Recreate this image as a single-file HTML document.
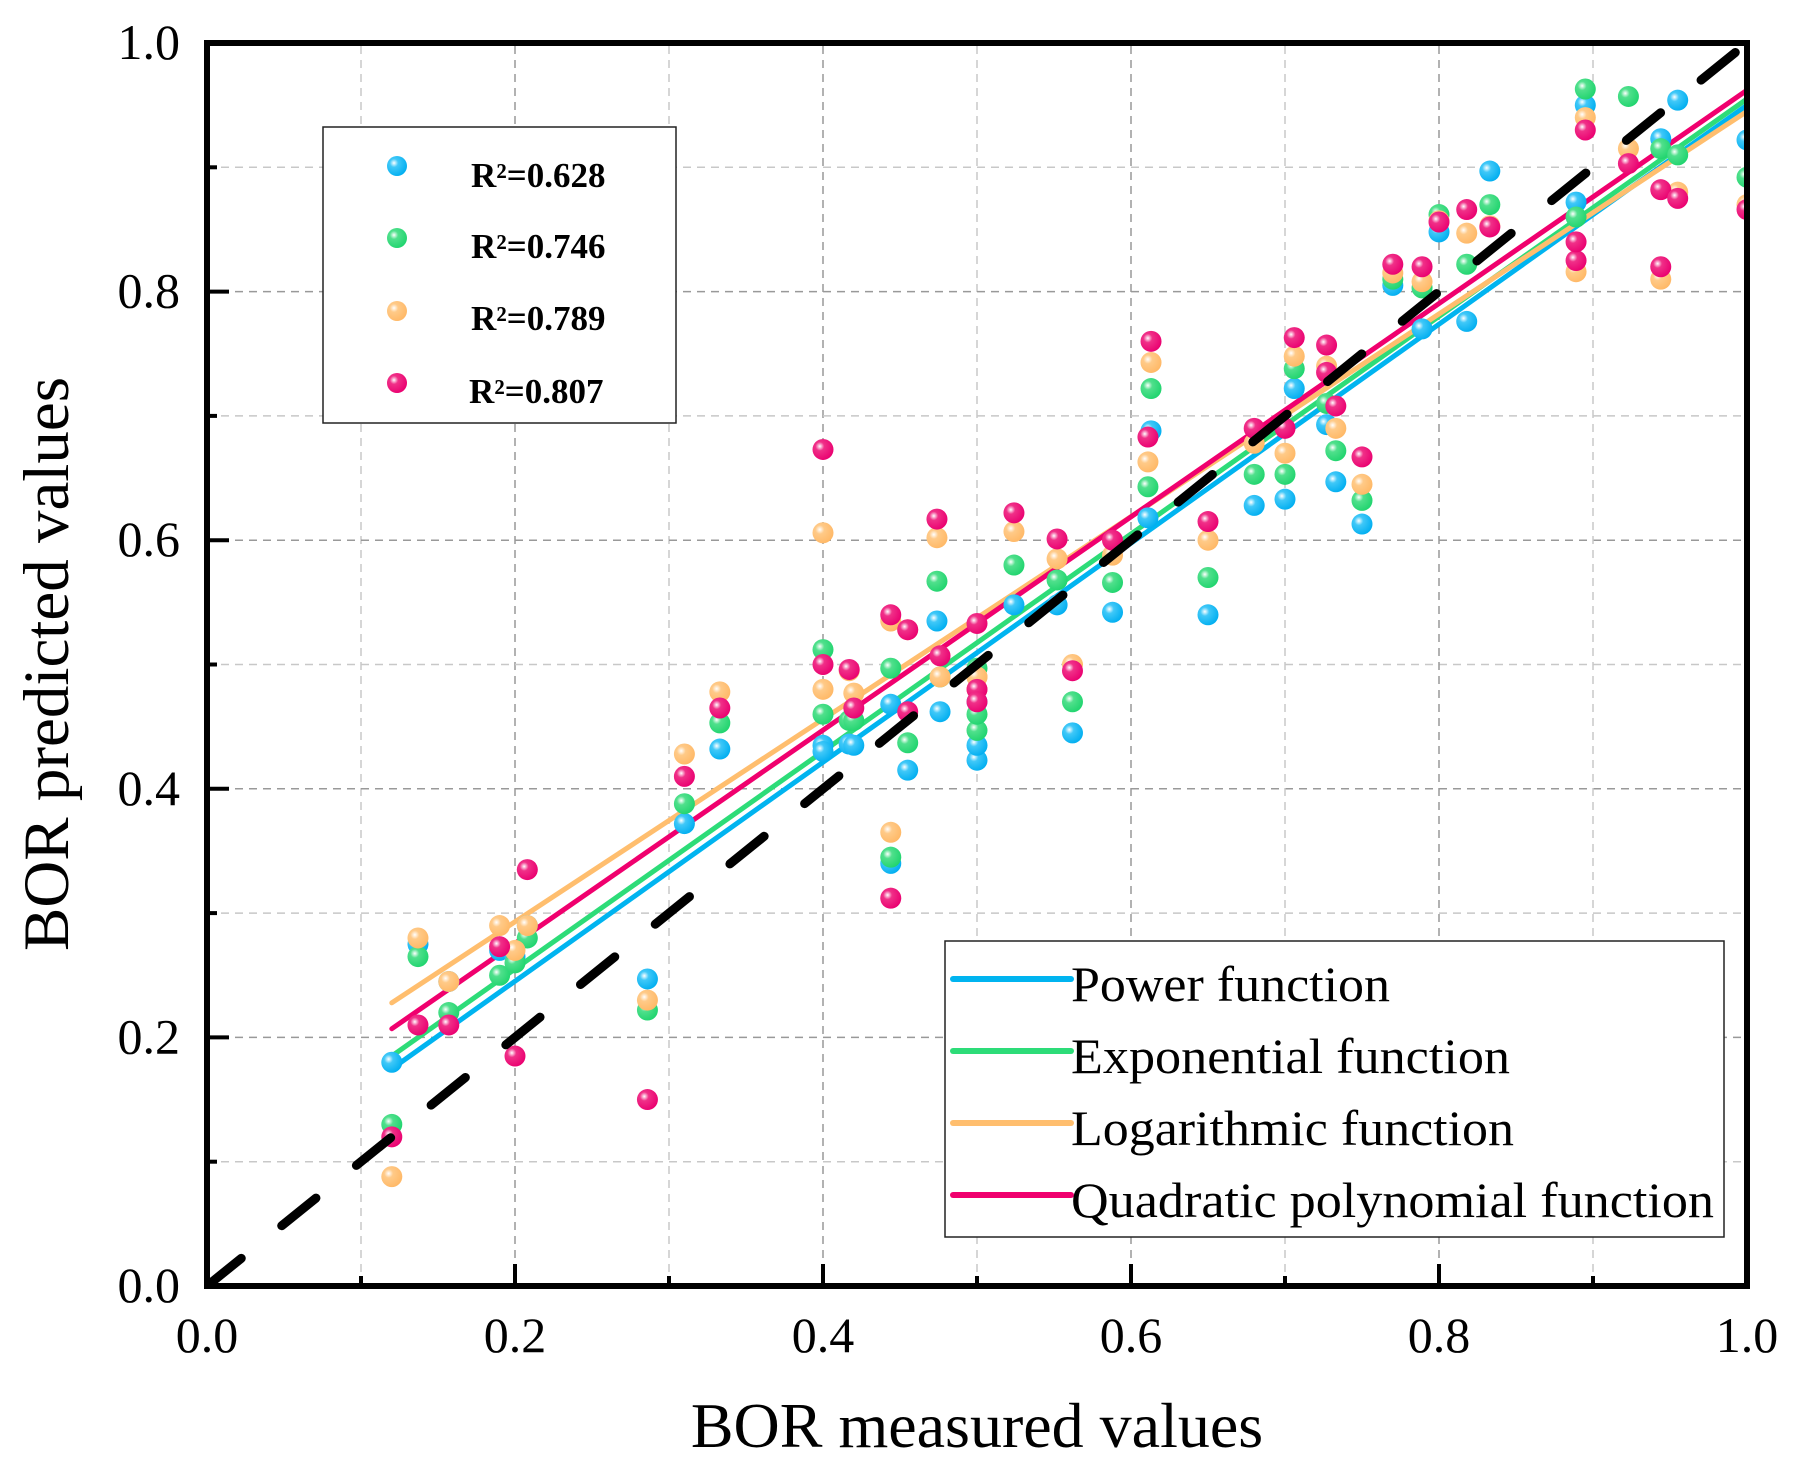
<!DOCTYPE html>
<html><head><meta charset="utf-8"><style>
html,body{margin:0;padding:0;background:#fff;}
svg{display:block;font-family:"Liberation Serif",serif;}
</style></head><body>
<svg id="chart" width="1794" height="1471" viewBox="0 0 1794 1471" xmlns="http://www.w3.org/2000/svg">
<defs>
<radialGradient id="gb" cx="0.35" cy="0.35" r="0.7"><stop offset="0" stop-color="#fff"/><stop offset="0.3" stop-color="#40c8f8"/><stop offset="1" stop-color="#00aef0"/></radialGradient>
<radialGradient id="gg" cx="0.35" cy="0.35" r="0.7"><stop offset="0" stop-color="#fff"/><stop offset="0.3" stop-color="#50e08c"/><stop offset="1" stop-color="#20d46e"/></radialGradient>
<radialGradient id="go" cx="0.35" cy="0.35" r="0.7"><stop offset="0" stop-color="#fff"/><stop offset="0.3" stop-color="#ffca88"/><stop offset="1" stop-color="#ffb866"/></radialGradient>
<radialGradient id="gp" cx="0.35" cy="0.35" r="0.7"><stop offset="0" stop-color="#fff"/><stop offset="0.3" stop-color="#f03088"/><stop offset="1" stop-color="#ea0070"/></radialGradient>
<clipPath id="plotclip"><rect x="207" y="43" width="1540" height="1243"/></clipPath>
</defs>
<g id="grid"></g>
<g id="fits" clip-path="url(#plotclip)"></g>
<g id="pts" clip-path="url(#plotclip)"></g>
<g id="diag" clip-path="url(#plotclip)"></g>
<rect x="207" y="43" width="1540" height="1243" fill="none" stroke="#000" stroke-width="6"/>
<g id="ticks"></g>
<text x="977" y="1447" font-size="64" text-anchor="middle">BOR measured values</text>
<text transform="translate(68,664) rotate(-90)" font-size="65" text-anchor="middle">BOR predicted values</text>
<g>
<rect x="323" y="127" width="353" height="296" fill="#fff" stroke="#222" stroke-width="1.5"/>
<circle cx="397" cy="166" r="10" fill="url(#gb)"/>
<circle cx="397" cy="238" r="10" fill="url(#gg)"/>
<circle cx="397" cy="311" r="10" fill="url(#go)"/>
<circle cx="397" cy="383" r="10" fill="url(#gp)"/>
<text x="471" y="187" font-size="35" font-weight="bold">R²=0.628</text>
<text x="471" y="258" font-size="35" font-weight="bold">R²=0.746</text>
<text x="471" y="330" font-size="35" font-weight="bold">R²=0.789</text>
<text x="469" y="403" font-size="35" font-weight="bold">R²=0.807</text>
</g>
<g>
<rect x="945" y="941" width="779" height="296" fill="#fff" stroke="#222" stroke-width="1.5"/>
<line x1="953" y1="979" x2="1071" y2="979" stroke="#00b4f0" stroke-width="6" stroke-linecap="round"/>
<line x1="953" y1="1051" x2="1071" y2="1051" stroke="#2ddc78" stroke-width="6" stroke-linecap="round"/>
<line x1="953" y1="1123" x2="1071" y2="1123" stroke="#ffbe6e" stroke-width="6" stroke-linecap="round"/>
<line x1="953" y1="1195" x2="1071" y2="1195" stroke="#f0006e" stroke-width="6" stroke-linecap="round"/>
<text x="1071" y="1001" font-size="50" textLength="319" lengthAdjust="spacingAndGlyphs">Power function</text>
<text x="1071" y="1073" font-size="50" textLength="439" lengthAdjust="spacingAndGlyphs">Exponential function</text>
<text x="1071" y="1145" font-size="50" textLength="443" lengthAdjust="spacingAndGlyphs">Logarithmic function</text>
<text x="1071" y="1217" font-size="50" textLength="643" lengthAdjust="spacingAndGlyphs">Quadratic polynomial function</text>
</g>
</svg>
<script>
const xs     = [0.12,0.137,0.157,0.19,0.2,0.208,0.286,0.31,0.333,0.4,0.4,0.417,0.42,0.444,0.444,0.455,0.474,0.476,0.5,0.5,0.5,0.524,0.552,0.562,0.588,0.611,0.613,0.65,0.68,0.7,0.706,0.727,0.733,0.75,0.77,0.789,0.8,0.818,0.833,0.889,0.895,0.923,0.944,0.944,0.955,1.0];
const blue   = [0.18,0.275,0.245,0.27,0.265,0.29,0.247,0.372,0.432,0.435,0.43,0.436,0.435,0.34,0.468,0.415,0.535,0.462,0.423,0.435,0.47,0.548,0.548,0.445,0.542,0.618,0.688,0.54,0.628,0.633,0.722,0.693,0.647,0.613,0.805,0.77,0.848,0.776,0.897,0.872,0.95,null,0.923,null,0.954,0.922];
const green  = [0.13,0.265,0.22,0.25,0.26,0.28,0.222,0.388,0.453,0.512,0.46,0.455,0.455,0.345,0.497,0.437,0.567,0.49,0.447,0.46,0.497,0.58,0.568,0.47,0.566,0.643,0.722,0.57,0.653,0.653,0.738,0.71,0.672,0.632,0.81,0.803,0.862,0.822,0.87,0.86,0.963,0.957,0.915,null,0.91,0.892];
const orange = [0.088,0.28,0.245,0.29,0.27,0.29,0.23,0.428,0.478,0.606,0.48,0.495,0.477,0.365,0.535,0.528,0.602,0.49,0.49,0.48,0.49,0.607,0.585,0.5,0.588,0.663,0.743,0.6,0.678,0.67,0.748,0.74,0.69,0.645,0.815,0.808,0.857,0.847,0.853,0.816,0.94,0.915,0.81,null,0.88,0.87];
const pink   = [0.12,0.21,0.21,0.273,0.185,0.335,0.15,0.41,0.465,0.673,0.5,0.496,0.465,0.312,0.54,0.528,0.617,0.507,0.533,0.48,0.47,0.622,0.601,0.495,0.6,0.683,0.76,0.615,0.69,0.69,0.763,0.757,0.708,0.667,0.822,0.82,0.856,0.866,0.852,0.825,0.93,0.903,0.82,0.882,0.875,0.866];
const extraPink = [[0.455,0.462],[0.727,0.735],[0.889,0.84]];
const fitSlope = [0.881,0.875,0.815,0.858];
const fitIntercept = [0.069,0.08,0.130,0.104];
const fitRange = [0.12,1.0];
const tickLabels = ["0.0","0.2","0.4","0.6","0.8","1.0"];
const ticks = [0,0.1,0.2,0.3,0.4,0.5,0.6,0.7,0.8,0.9,1.0];

const NS="http://www.w3.org/2000/svg";
const X0=207,X1=1747,Y0=1286,Y1=43;
const sx=v=>X0+v*(X1-X0);
const sy=v=>Y0-v*(Y0-Y1);
function mk(tag,attrs,parent){const e=document.createElementNS(NS,tag);for(const k in attrs)e.setAttribute(k,attrs[k]);parent.appendChild(e);return e;}
const grid=document.getElementById('grid'),tk=document.getElementById('ticks');
ticks.forEach((t,i)=>{
  if(t>0&&t<1){
    const gv=mk('line',{x1:sx(t),x2:sx(t),y1:Y0,y2:Y1,stroke:i%2?'#c8c8c8':'#999','stroke-width':1.5,'stroke-dasharray':'8,6'},grid);
    
    
    const gh=mk('line',{x1:X0,x2:X1,y1:sy(t),y2:sy(t),stroke:i%2?'#c8c8c8':'#999','stroke-width':1.5,'stroke-dasharray':'8,6'},grid);
    
    
  }
  const L=i%2?10:22;
  const a=mk('line',{x1:sx(t),x2:sx(t),y1:Y0,y2:Y0-L,stroke:'#000','stroke-width':4},tk);
  
  
  const b=mk('line',{x1:X0,x2:X0+L,y1:sy(t),y2:sy(t),stroke:'#000','stroke-width':4},tk);
  
  
});
tickLabels.forEach((s,i)=>{
  const v=parseFloat(s);
  const tx=mk('text',{x:sx(v),y:1352,'font-size':50,'text-anchor':'middle'},tk);
  tx.textContent=s;
  
  
  const ty=mk('text',{x:180,y:sy(v)+16,'font-size':50,'text-anchor':'end'},tk);
  ty.textContent=s;
  
  
});
const colors=['#00b4f0','#2ddc78','#ffbe6e','#f0006e'];
const names=['power','exponential','logarithmic','quadratic'];
const fits=document.getElementById('fits');
fitSlope.forEach((m,i)=>{
  const l=mk('line',{x1:sx(fitRange[0]),y1:sy(m*fitRange[0]+fitIntercept[i]),x2:sx(fitRange[1]),y2:sy(m*fitRange[1]+fitIntercept[i]),stroke:colors[i],'stroke-width':5,'stroke-linecap':'round'},fits);
  
  
});
const pts=document.getElementById('pts');
const series=[blue,green,orange,pink],grads=['url(#gb)','url(#gg)','url(#go)','url(#gp)'];
series.forEach((arr,si)=>{
  arr.forEach((v,j)=>{
    if(v==null)return;
    const c=mk('circle',{cx:sx(xs[j]),cy:sy(v),r:10.5,fill:grads[si]},pts);
    
    
  });
});
extraPink.forEach(p=>{
  const c=mk('circle',{cx:sx(p[0]),cy:sy(p[1]),r:10.5,fill:grads[3]},pts);
  
  
});
const d=mk('line',{x1:sx(0),y1:sy(0),x2:sx(1),y2:sy(1),stroke:'#000','stroke-width':9,'stroke-dasharray':'44,52','stroke-linecap':'round'},document.getElementById('diag'));


</script>
</body></html>
